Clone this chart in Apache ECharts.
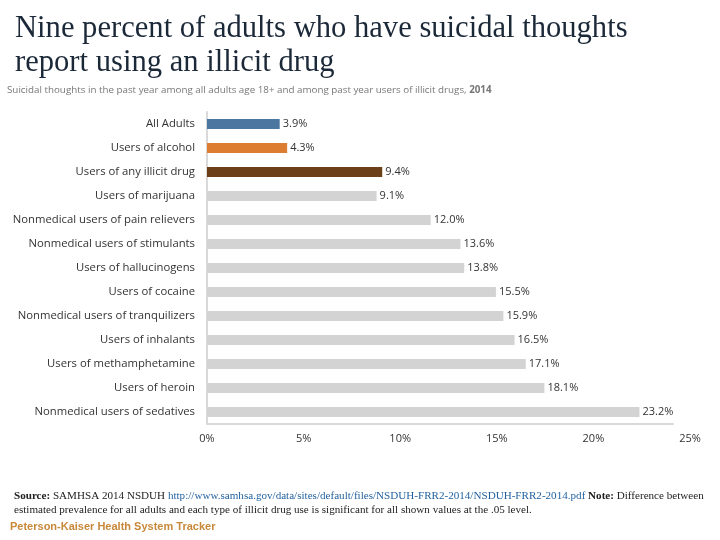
<!DOCTYPE html>
<html>
<head>
    <meta charset="utf-8">
    <title>Suicidal thoughts and illicit drug use</title>
    <script src="https://cdn.jsdelivr.net/npm/echarts@6/dist/echarts.min.js"></script>
</head>
<body style="margin:0">
    <div id="main" style="width:720px;height:540px;"></div>
    <script type="text/javascript">
        // categories, top to bottom
        var categories = ['All Adults', 'Users of alcohol', 'Users of any illicit drug', 'Users of marijuana',
            'Nonmedical users of pain relievers', 'Nonmedical users of stimulants', 'Users of hallucinogens',
            'Users of cocaine', 'Nonmedical users of tranquilizers', 'Users of inhalants',
            'Users of methamphetamine', 'Users of heroin', 'Nonmedical users of sedatives'];
        var values = [3.9, 4.3, 9.4, 9.1, 12.0, 13.6, 13.8, 15.5, 15.9, 16.5, 17.1, 18.1, 23.2];
        var barColors = ['#4a76a0', '#dd7d31', '#6b3f17'];
        var otherColor = '#d3d3d3';

        var labelFont = '"Open Sans", sans-serif';
        var serif = '"Liberation Serif", serif';

        var barData = [];
        for (var i = 0; i < values.length; i++) {
            barData.push({
                value: values[i],
                itemStyle: { color: i < barColors.length ? barColors[i] : otherColor }
            });
        }

        var myChart = echarts.init(document.getElementById('main'));
        var option = {
            animation: false,
            backgroundColor: '#ffffff',
            title: [{
                text: 'Nine percent of adults who have suicidal thoughts\nreport using an illicit drug',
                left: 15, top: 12, padding: 0,
                textStyle: { fontFamily: serif, fontWeight: 'normal', fontSize: 30.6, lineHeight: 34, color: '#1b2838' }
            }, {
                text: 'Suicidal thoughts in the past year among all adults age 18+ and among past year users of illicit drugs, {b|2014}',
                left: 7, top: 85, padding: 0,
                textStyle: {
                    fontFamily: labelFont, fontWeight: 'normal', fontSize: 9.8, color: '#777',
                    rich: { b: { fontFamily: labelFont, fontSize: 9.8, fontWeight: 'bold', color: '#777' } }
                }
            }],
            grid: [
                { left: 207, right: 47, top: 112, height: 312 },
                { left: 207, right: 30, top: 112, height: 312 }
            ],
            xAxis: [{
                gridIndex: 0, type: 'value', min: 0, max: 25,
                axisLine: { show: true, lineStyle: { color: '#d9d9d9', width: 2 } },
                axisTick: { show: false }, axisLabel: { show: false }, splitLine: { show: false }
            }, {
                // tick labels are spaced on their own in the reference
                gridIndex: 1, type: 'value', min: 0, max: 25, interval: 5,
                axisLine: { show: false }, axisTick: { show: false }, splitLine: { show: false },
                axisLabel: {
                    margin: 9, fontFamily: labelFont, fontSize: 11, color: '#333',
                    formatter: function (v) { return v + '%'; }
                }
            }],
            yAxis: [{
                gridIndex: 0, type: 'category', data: categories, inverse: true,
                axisLine: { show: true, lineStyle: { color: '#d9d9d9', width: 2 } },
                axisTick: { show: false },
                axisLabel: { margin: 12, fontFamily: labelFont, fontSize: 11.3, color: '#333' }
            }, {
                gridIndex: 1, type: 'category', data: categories, inverse: true, show: false
            }],
            series: [{
                type: 'bar', xAxisIndex: 0, yAxisIndex: 0,
                data: barData, barWidth: 10,
                label: {
                    show: true, position: 'right', distance: 3,
                    fontFamily: labelFont, fontSize: 11, color: '#333',
                    formatter: function (p) { return p.value.toFixed(1) + '%'; }
                }
            }],
            graphic: [{
                type: 'text', left: 14, top: 489,
                style: {
                    text: '{b|Source:} SAMHSA 2014 NSDUH {u|http://www.samhsa.gov/data/sites/default/files/NSDUH-FRR2-2014/NSDUH-FRR2-2014.pdf} {b|Note:} Difference between\nestimated prevalence for all adults and each type of illicit drug use is significant for all shown values at the .05 level.',
                    font: '11.1px ' + serif, fill: '#222', lineHeight: 14,
                    rich: {
                        b: { font: 'bold 11.1px ' + serif, fill: '#222' },
                        u: { font: '11.1px ' + serif, fill: '#1f5f9e' }
                    }
                }
            }, {
                type: 'text', left: 10, top: 521,
                style: {
                    text: 'Peterson-Kaiser Health System Tracker',
                    font: 'bold 11px "Liberation Sans Narrow", "Liberation Sans", sans-serif', fill: '#c8883a'
                }
            }]
        };
        myChart.setOption(option);
    </script>
</body>
</html>
